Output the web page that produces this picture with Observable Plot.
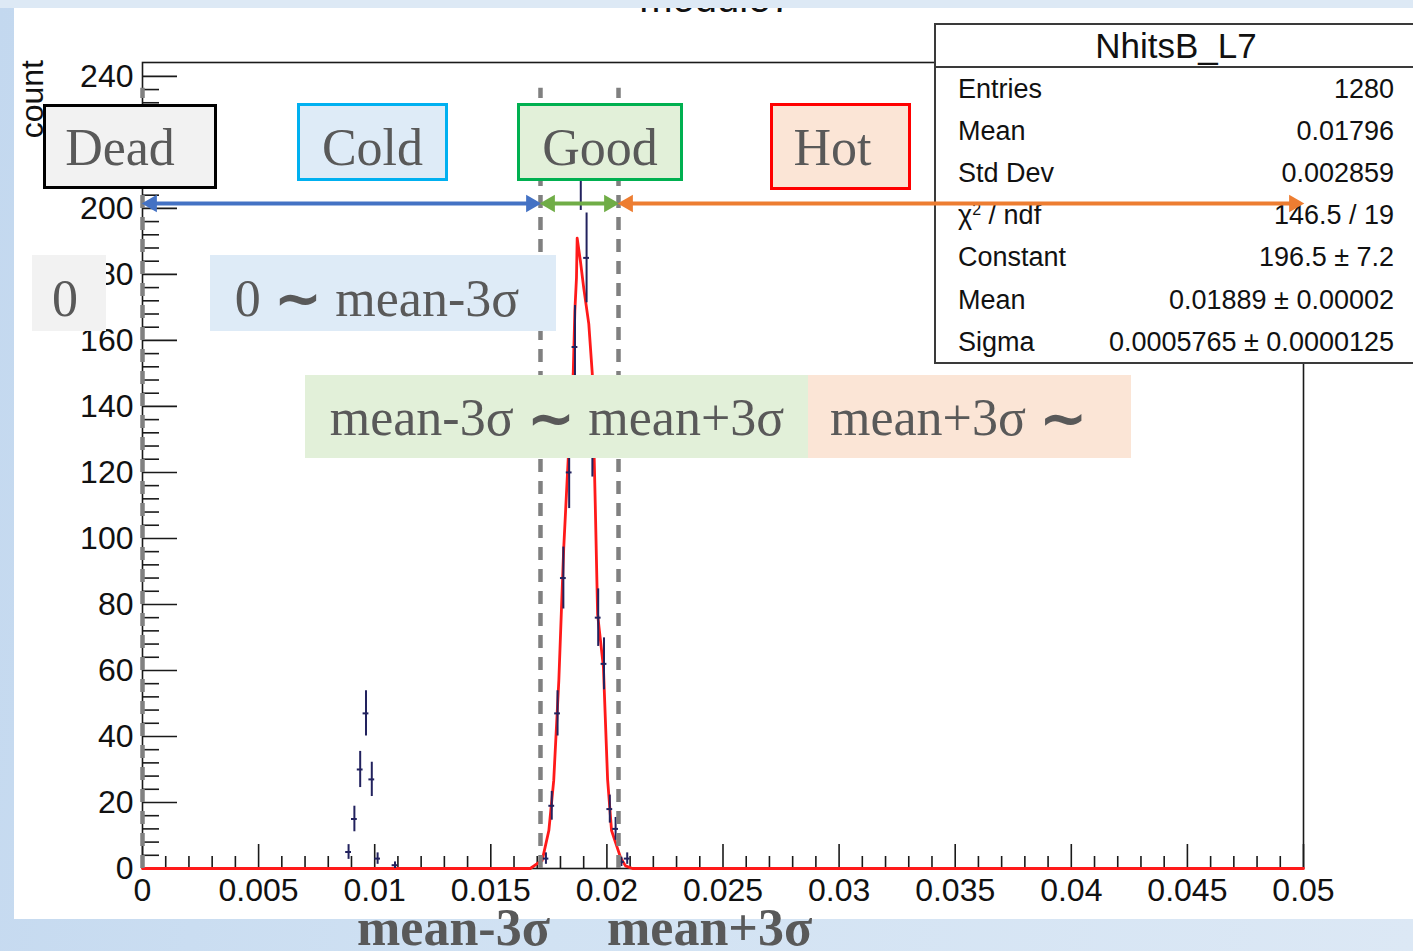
<!DOCTYPE html>
<html><head><meta charset="utf-8">
<script src="https://cdn.jsdelivr.net/npm/d3@7"></script>
<script src="https://cdn.jsdelivr.net/npm/@observablehq/plot@0.6"></script>
<style>
html,body{margin:0;padding:0;}
body{width:1413px;height:951px;overflow:hidden;}
#stage{position:relative;width:1413px;height:951px;overflow:hidden;
  background:linear-gradient(100deg,#c3d8ef 0%,#d1e2f3 45%,#dce8f5 100%);font-family:"Liberation Sans",Arial,sans-serif;}
#panel{position:absolute;left:14px;top:8px;width:1399px;height:911px;background:#fff;}
#band{position:absolute;left:0;top:0;width:1413px;height:8px;background:#dde9f5;}
.layer{position:absolute;left:0;top:0;}
#stats{position:absolute;left:934px;top:23px;width:484px;height:341px;box-sizing:border-box;border:2px solid #3a3a3a;background:#fff;color:#111;}
#stats .title{height:41px;border-bottom:2px solid #3a3a3a;text-align:center;font-size:35px;line-height:41px;}
#stats .row{height:42.2px;display:flex;justify-content:space-between;align-items:center;padding:0 22px 0 22px;font-size:27px;}
.ann{position:absolute;box-sizing:border-box;display:flex;align-items:center;justify-content:center;
  font-family:"Liberation Serif","Times New Roman",serif;font-size:52px;color:#595959;white-space:pre;}
.bot{position:absolute;font-family:"Liberation Serif","Times New Roman",serif;font-weight:bold;font-size:52px;line-height:52px;color:#595959;white-space:nowrap;}
.wave{font-family:"DejaVu Sans",sans-serif;font-size:58px;font-weight:bold;}
</style></head>
<body>
<div id="stage">
  <div id="panel"></div>
  <div id="base" class="layer"></div>
  <div id="band"></div>
  <svg class="layer" width="1413" height="951" style="pointer-events:none">
    <text transform="translate(43,60) rotate(-90)" text-anchor="end" font-family="Liberation Sans" font-size="32" fill="#111">count</text>
  </svg>
  <div id="stats"></div>
  <div id="over" class="layer"></div>
  <div id="anns"></div>
</div>
<script>
// ---- data ----
const binCenters = [0.008875, 0.009125, 0.009375, 0.009625, 0.009875, 0.010125, 0.010875,
  0.017375, 0.017625, 0.017875, 0.018125, 0.018375, 0.018625, 0.018875, 0.019125, 0.019375,
  0.019625, 0.019875, 0.020125, 0.020375, 0.020625, 0.020875];
const binCounts = [5, 15, 30, 47, 27, 3, 1,
  3, 19, 47, 88, 120, 158, 214, 185, 130,
  76, 62, 18, 12, 2, 3];
const binWidth = 0.00025;

const fitX = [0, 0.0167, 0.0170, 0.01721, 0.0175, 0.01771, 0.01793, 0.01814, 0.01829, 0.01845,
  0.01855, 0.01862, 0.01869, 0.01872, 0.01886, 0.0190, 0.01922, 0.01937, 0.0195, 0.0196,
  0.01985, 0.02003, 0.0202, 0.02059, 0.0208, 0.0211, 0.05];
const fitY = [0, 0, 1.5, 2.4, 11.5, 26.7, 57, 97, 118, 140,
  150, 169, 179, 191, 184, 176, 165, 150, 110, 77,
  61, 27, 11.5, 3.3, 0.8, 0, 0];

const xTicks = [0, 0.005, 0.01, 0.015, 0.02, 0.025, 0.03, 0.035, 0.04, 0.045, 0.05];
const xTickLabels = ["0", "0.005", "0.01", "0.015", "0.02", "0.025", "0.03", "0.035", "0.04", "0.045", "0.05"];
const yTicks = [0, 20, 40, 60, 80, 100, 120, 140, 160, 180, 200, 220, 240];
const yTickLabels = ["0", "20", "40", "60", "80", "100", "120", "140", "160", "180", "200", "220", "240"];

const boundaries = [0, 0.01714, 0.0205];          // 0, mean-3σ, mean+3σ
const arrowSegments = [
  {x1: 0, x2: 0.01714, color: "#4472c4"},
  {x1: 0.01714, x2: 0.0205, color: "#70ad47"},
  {x1: 0.0205, x2: 0.05, color: "#ed7d31"}
];
const arrowLevel = 201.5;
const dashTop = 236.4;

const statsTitle = "NhitsB_L7";
const statLabels = ["Entries", "Mean", "Std Dev", "χ<sup style='font-size:16px;vertical-align:9px'>2</sup> / ndf", "Constant", "Mean", "Sigma"];
const statValues = ["1280", "0.01796", "0.002859", "146.5 / 19", "196.5 ± 7.2", "0.01889 ± 0.00002", "0.0005765 ± 0.0000125"];
const plotTitle = "module7";

// ---- layout ----
const W = 1413, H = 951;
const mL = 142, mR = 110, mT = 62, mB = 83;
const xDom = [0, 0.05], yDom = [0, 244.2];
const pxX = (xDom[1] - xDom[0]) / (W - mL - mR);
const pxY = (yDom[1] - yDom[0]) / (H - mT - mB);

const bins = binCenters.map((x, i) => ({x, y: binCounts[i]}));
const fit = fitX.map((x, i) => ({x, y: fitY[i]}));
const xMinor = d3.range(0, 0.05 + 1e-9, 0.001).filter(v => !xTicks.some(t => Math.abs(t - v) < 1e-9));
const yMinor = d3.range(0, 244, 4).filter(v => v % 20 !== 0);
const ink = "#1a1a1a";
const navy = "#22225e";

const base = Plot.plot({
  width: W, height: H, marginLeft: mL, marginRight: mR, marginTop: mT, marginBottom: mB,
  x: {domain: xDom, axis: null}, y: {domain: yDom, axis: null},
  style: {background: "transparent", fontFamily: "Liberation Sans, Arial, sans-serif"},
  marks: [
    Plot.frame({stroke: ink, strokeWidth: 1.6}),
    // ticks
    Plot.ruleX(xTicks, {x: d => d, y1: 0, y2: 24 * pxY, stroke: ink, strokeWidth: 1.6}),
    Plot.ruleX(xMinor, {x: d => d, y1: 0, y2: 12 * pxY, stroke: ink, strokeWidth: 1.6}),
    Plot.ruleY(yTicks, {y: d => d, x1: 0, x2: 35 * pxX, stroke: ink, strokeWidth: 1.6}),
    Plot.ruleY(yMinor, {y: d => d, x1: 0, x2: 17 * pxX, stroke: ink, strokeWidth: 1.6}),
    Plot.text(xTicks, {x: d => d, y: 0, text: (d, i) => xTickLabels[i], dy: 22, fontSize: 32, fill: "#111"}),
    Plot.text(yTicks, {x: 0, y: d => d, text: (d, i) => yTickLabels[i], dx: -9, textAnchor: "end", fontSize: 32, fill: "#111"}),
    Plot.text([plotTitle], {frameAnchor: "top", text: d => d, dx: -7, dy: -51, lineAnchor: "bottom", fontSize: 40, fill: "#111"}),
    // fit curve
    Plot.line(fit, {x: "x", y: "y", stroke: "#ff1a1a", strokeWidth: 2.8, curve: "linear"}),
    // histogram points with errors
    Plot.ruleX(bins, {x: "x", y1: d => d.y - Math.sqrt(d.y), y2: d => d.y + Math.sqrt(d.y), stroke: navy, strokeWidth: 2}),
    Plot.ruleY(bins, {y: "y", x1: d => d.x - binWidth / 2, x2: d => d.x + binWidth / 2, stroke: navy, strokeWidth: 2}),
    // dashed boundaries
    Plot.ruleX(boundaries, {x: d => d, y1: 0, y2: dashTop, stroke: "#808080", strokeWidth: 4.5, strokeDasharray: "13,9"})
  ]
});
document.getElementById("base").appendChild(base);

// stats box
const st = document.getElementById("stats");
st.innerHTML = `<div class="title">${statsTitle}</div>` +
  statLabels.map((l, i) => `<div class="row"><span>${l}</span><span>${statValues[i]}</span></div>`).join("");

// arrows overlay
const tip = 9.3;
const heads = [];
arrowSegments.forEach(s => {
  heads.push({x: s.x1, rot: -90, color: s.color});
  heads.push({x: s.x2, rot: 90, color: s.color});
});
const over = Plot.plot({
  width: W, height: H, marginLeft: mL, marginRight: mR, marginTop: mT, marginBottom: mB,
  x: {domain: xDom, axis: null}, y: {domain: yDom, axis: null},
  style: {background: "transparent"},
  marks: [
    Plot.link(arrowSegments, {x1: d => d.x1 + 8 * pxX, x2: d => d.x2 - 8 * pxX, y1: arrowLevel, y2: arrowLevel, stroke: d => d.color, strokeWidth: 4}),
    Plot.dot(heads.filter(h => h.rot > 0), {x: "x", y: arrowLevel, symbol: "triangle", r: 6.5, rotate: 90, dx: -tip, fill: d => d.color, stroke: "none"}),
    Plot.dot(heads.filter(h => h.rot < 0), {x: "x", y: arrowLevel, symbol: "triangle", r: 6.5, rotate: -90, dx: tip, fill: d => d.color, stroke: "none"})
  ]
});
over.style.pointerEvents = "none";
document.getElementById("over").appendChild(over);

// slide annotations
const W8 = "<span class='wave'>∼</span>";
const anns = [
  {t: "Dead", l: 43, tp: 104, w: 174, h: 85, bg: "#f2f2f2", bd: "#000", pr: 20, pt: 2},
  {t: "Cold", l: 297, tp: 103, w: 151, h: 78, bg: "#deebf7", bd: "#00b0f0", pt: 10},
  {t: "Good", l: 517, tp: 103, w: 166, h: 78, bg: "#e2f0d9", bd: "#00b050", pt: 10},
  {t: "Hot", l: 770, tp: 103, w: 141, h: 87, bg: "#fbe5d6", bd: "#ff0000", pr: 16, pt: 2},
  {t: "0", l: 32, tp: 255, w: 74, h: 76, bg: "#f2f2f2", pr: 8, pt: 10},
  {t: "0 " + W8 + " mean-3σ", l: 210, tp: 255, w: 346, h: 76, bg: "#deebf7", pt: 10, pr: 12},
  {t: "mean-3σ " + W8 + " mean+3σ", l: 305, tp: 375, w: 504, h: 83, bg: "#e2f0d9", pt: 2},
  {t: "mean+3σ " + W8, l: 808, tp: 375, w: 323, h: 83, bg: "#fbe5d6", left: 22, pt: 2}
];
const A = document.getElementById("anns");
anns.forEach(a => {
  const d = document.createElement("div");
  d.className = "ann";
  d.style.left = a.l + "px"; d.style.top = a.tp + "px";
  d.style.width = a.w + "px"; d.style.height = a.h + "px";
  d.style.background = a.bg;
  if (a.bd) d.style.border = "3px solid " + a.bd;
  if (a.pr) d.style.paddingRight = a.pr + "px";
  if (a.pt) d.style.paddingTop = a.pt + "px";
  if (a.left !== undefined) { d.style.justifyContent = "flex-start"; d.style.paddingLeft = a.left + "px"; }
  d.innerHTML = a.t;
  A.appendChild(d);
});
[["mean-3σ", 357], ["mean+3σ", 607]].forEach(([t, l]) => {
  const d = document.createElement("div");
  d.className = "bot"; d.style.left = l + "px"; d.style.top = "902px"; d.textContent = t;
  A.appendChild(d);
});
</script>
</body></html>
